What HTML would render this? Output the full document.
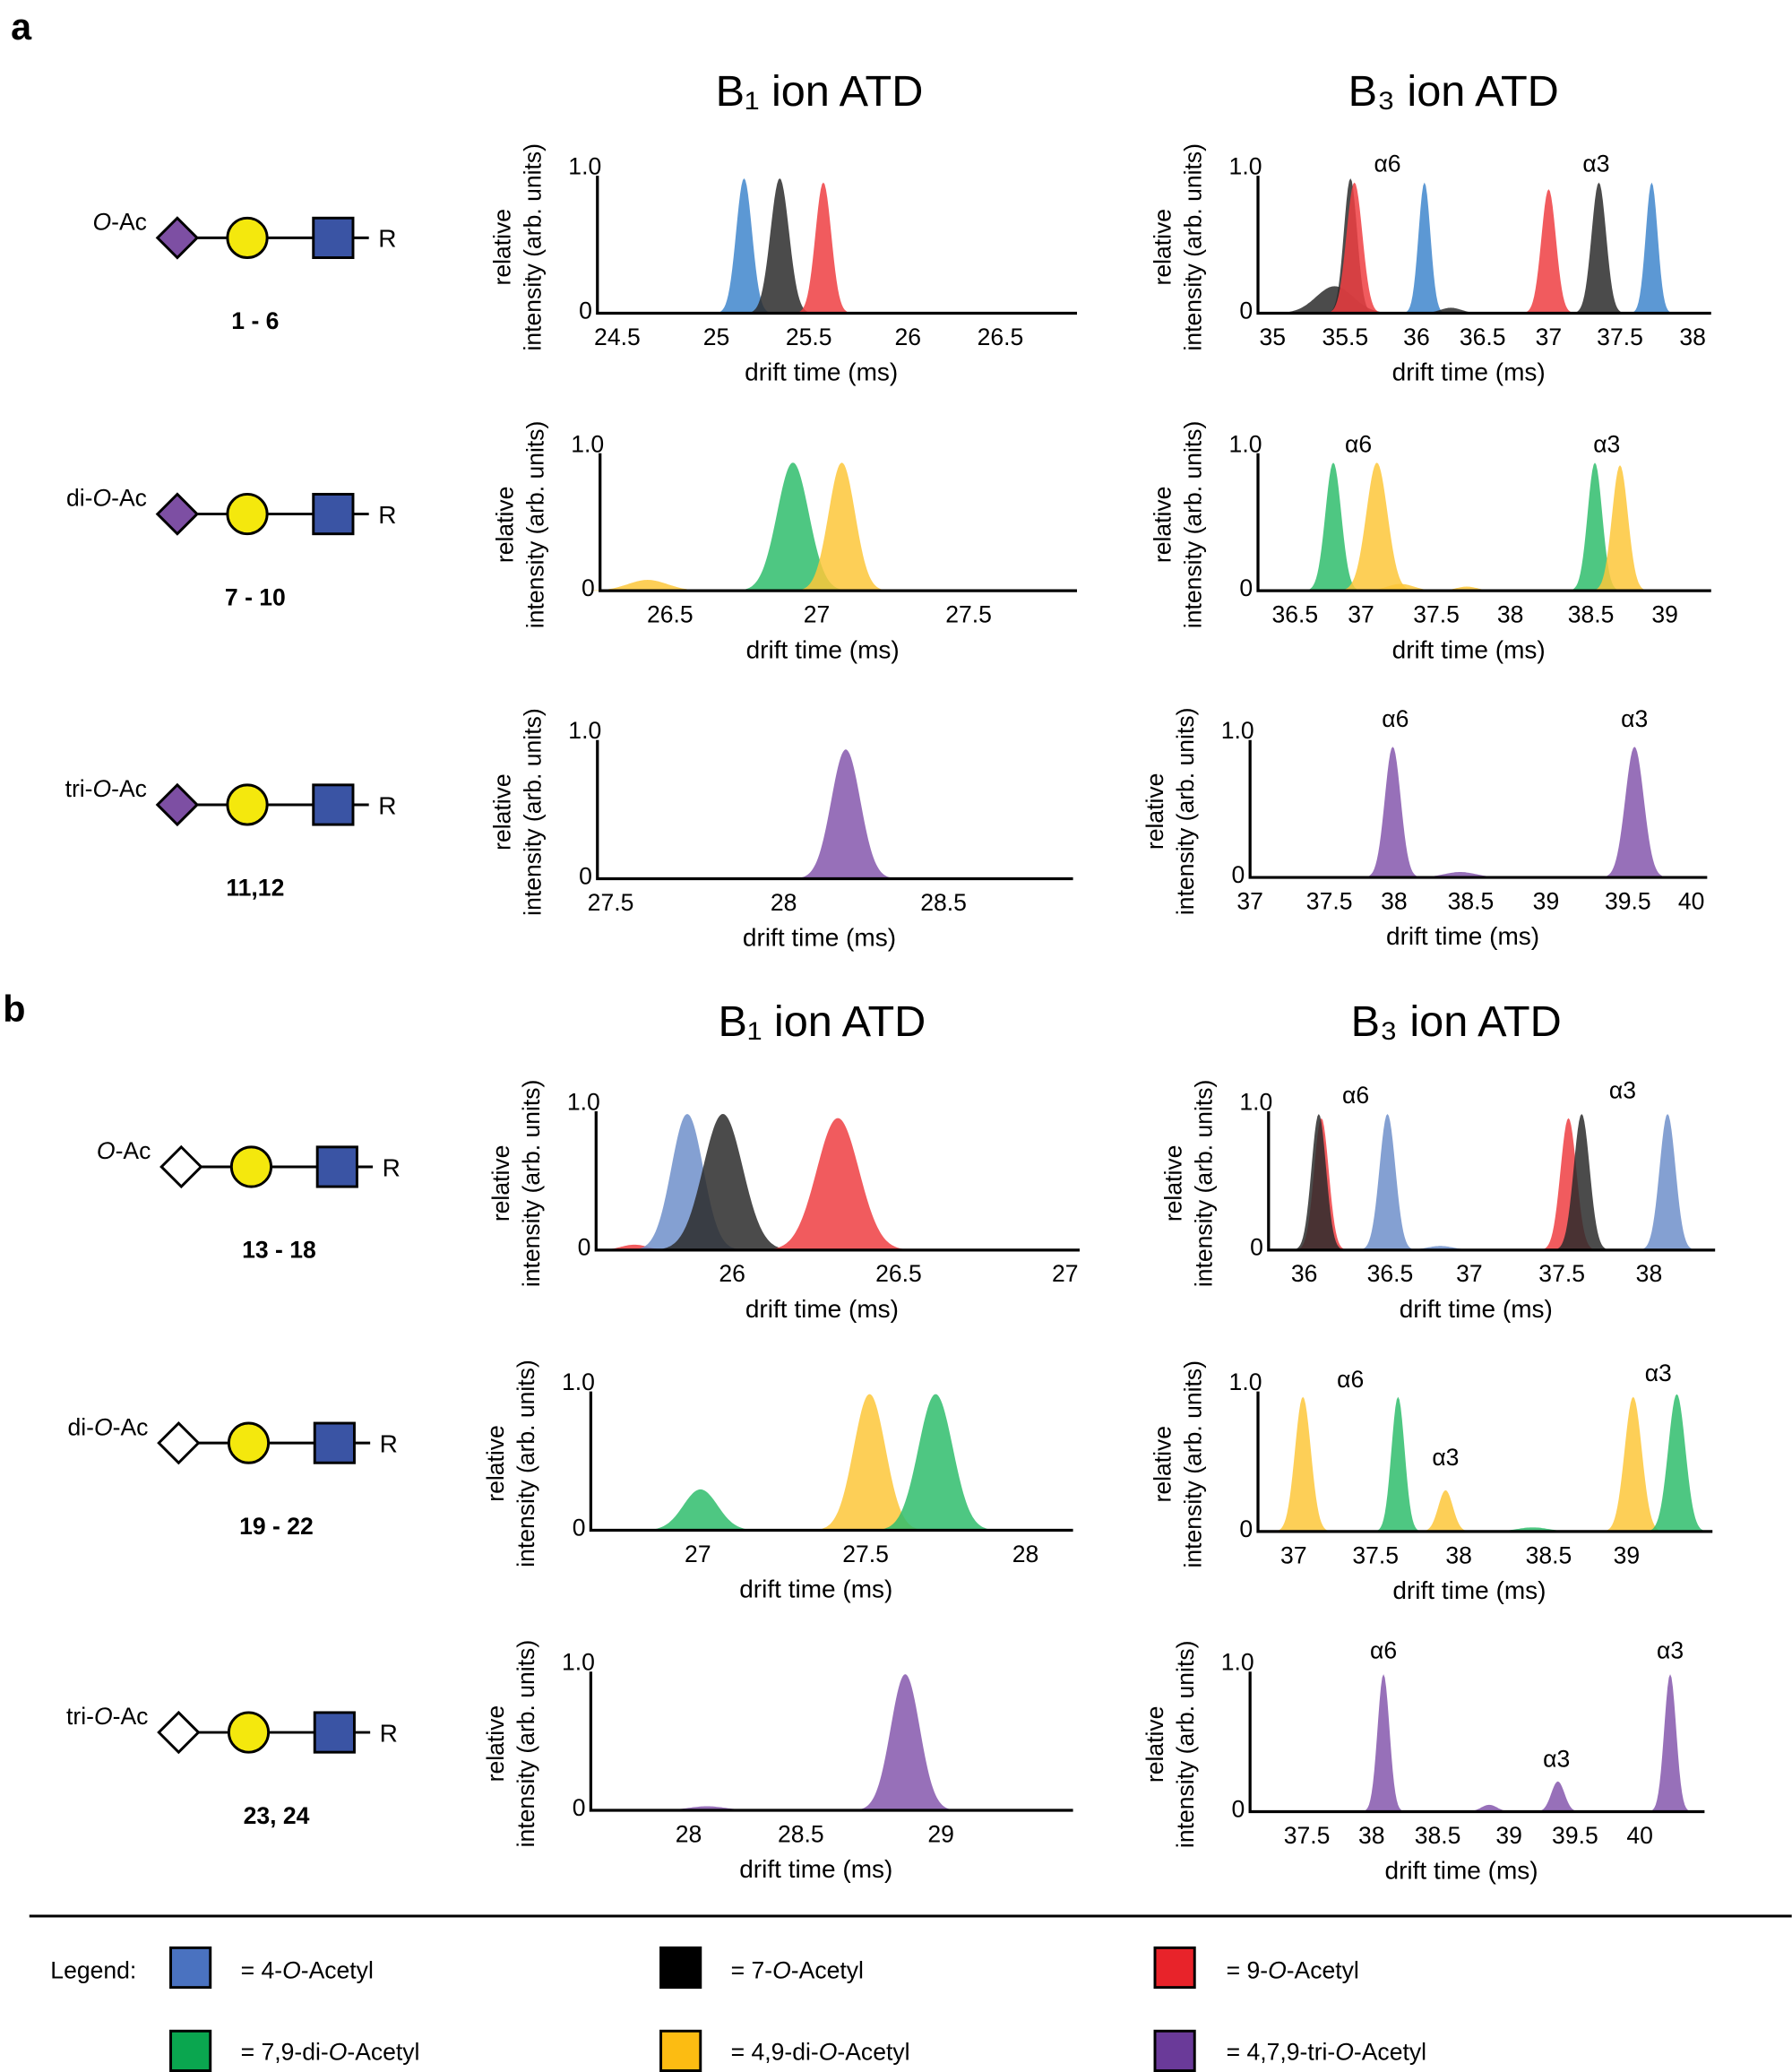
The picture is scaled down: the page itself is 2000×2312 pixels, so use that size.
<!DOCTYPE html>
<html><head><meta charset="utf-8">
<style>
html,body{margin:0;padding:0;background:#fff;}
svg{display:block;font-family:"Liberation Sans",sans-serif;}
</style></head>
<body>
<svg id="s" width="2000" height="2312" viewBox="0 0 1356 1568" xmlns="http://www.w3.org/2000/svg">
<rect width="1356" height="1568" fill="#fff"/>
<text x="8" y="30" font-size="28" font-weight="bold">a</text>
<text x="2" y="773" font-size="28" font-weight="bold">b</text>
<text x="620" y="80" font-size="33" text-anchor="middle">B₁ ion ATD</text>
<text x="1100" y="80" font-size="33" text-anchor="middle">B₃ ion ATD</text>
<text x="622" y="784" font-size="33" text-anchor="middle">B₁ ion ATD</text>
<text x="1102" y="784" font-size="33" text-anchor="middle">B₃ ion ATD</text>
<g id="plots"></g>
<g id="gly"></g>
<line x1="22" y1="1450" x2="1356" y2="1450" stroke="#000" stroke-width="2"/>
<g font-size="18">
<text x="38" y="1497">Legend:</text>
<rect x="129" y="1474" width="30" height="30" fill="#4a72c0" stroke="#000" stroke-width="2"/>
<text x="182" y="1497">= 4-<tspan font-style="italic">O</tspan>-Acetyl</text>
<rect x="500" y="1474" width="30" height="30" fill="#000" stroke="#000" stroke-width="2"/>
<text x="553" y="1497">= 7-<tspan font-style="italic">O</tspan>-Acetyl</text>
<rect x="874" y="1474" width="30" height="30" fill="#e8232a" stroke="#000" stroke-width="2"/>
<text x="928" y="1497">= 9-<tspan font-style="italic">O</tspan>-Acetyl</text>
<rect x="129" y="1537" width="30" height="30" fill="#0aa64f" stroke="#000" stroke-width="2"/>
<text x="182" y="1559">= 7,9-di-<tspan font-style="italic">O</tspan>-Acetyl</text>
<rect x="500" y="1537" width="30" height="30" fill="#fcbc12" stroke="#000" stroke-width="2"/>
<text x="553" y="1559">= 4,9-di-<tspan font-style="italic">O</tspan>-Acetyl</text>
<rect x="874" y="1537" width="30" height="30" fill="#6a3a99" stroke="#000" stroke-width="2"/>
<text x="928" y="1559">= 4,7,9-tri-<tspan font-style="italic">O</tspan>-Acetyl</text>
</g>
</svg>
<script>
var NS="http://www.w3.org/2000/svg";
var C={B:"#3f86cc",b:"#6f8fca",K:"#2b2b2b",R:"#ef3e42",G:"#2fbd6c",Y:"#fdc73a",P:"#8557ad"};
function el(p,t,a,txt){var e=document.createElementNS(NS,t);for(var k in a)e.setAttribute(k,a[k]);if(txt!==undefined)e.textContent=txt;p.appendChild(e);return e;}
var plots=[
{x0:452,x1:815,top:133,base:237,ticks:[["24.5",467],["25",542],["25.5",612],["26",687],["26.5",757]],
 pk:[["B",563,6,1],["K",590,7,1],["R",623,6,.97]],lab:[]},
{x0:952,x1:1295,top:133,base:237,ticks:[["35",963],["35.5",1018],["36",1072],["36.5",1122],["37",1172],["37.5",1226],["38",1281]],
 pk:[["K",1010,14,.2],["K",1022,5,1],["R",1025,6,.97],["B",1078,4.5,.97],["K",1098,8,.04],["R",1172,5.5,.92],["K",1210,5.5,.97],["B",1250,4.5,.97]],lab:[["α6",1050,130],["α3",1208,130]]},
{x0:454,x1:815,top:343,base:447,ticks:[["26.5",507],["27",618],["27.5",733]],
 pk:[["Y",490,15,.08],["G",600,12,.95],["Y",637,10,.95]],lab:[]},
{x0:952,x1:1295,top:343,base:447,ticks:[["36.5",980],["37",1030],["37.5",1087],["38",1143],["38.5",1204],["39",1260]],
 pk:[["G",1009,6,.95],["Y",1042,8,.95],["Y",1060,10,.05],["Y",1110,8,.03],["G",1207,5.5,.95],["Y",1226,6,.93]],lab:[["α6",1028,342],["α3",1216,342]]},
{x0:452,x1:812,top:560,base:665,ticks:[["27.5",462],["28",593],["28.5",714]],
 pk:[["P",640,11,.95]],lab:[]},
{x0:946,x1:1292,top:560,base:664,ticks:[["37",946],["37.5",1006],["38",1055],["38.5",1113],["39",1170],["39.5",1232],["40",1280]],
 pk:[["P",1054,6,.97],["P",1105,12,.04],["P",1237,7,.97]],lab:[["α6",1056,550],["α3",1237,550]]},
{x0:451,x1:817,top:841,base:946,ticks:[["26",554],["26.5",680],["27",806]],
 pk:[["R",480,10,.04],["b",520,12,1],["K",547,15,1],["R",634,16,.97]],lab:[]},
{x0:960,x1:1298,top:841,base:946,ticks:[["36",987],["36.5",1052],["37",1112],["37.5",1182],["38",1248]],
 pk:[["R",1000,5.5,.97],["K",998,5.5,1],["b",1050,6,1],["b",1090,10,.03],["R",1187,6,.97],["K",1197,6,1],["b",1262,6,1]],lab:[["α6",1026,835],["α3",1228,831]]},
{x0:447,x1:812,top:1053,base:1158,ticks:[["27",528],["27.5",655],["28",776]],
 pk:[["G",530,13,.3],["Y",658,12,1],["G",708,13,1]],lab:[]},
{x0:952,x1:1296,top:1053,base:1159,ticks:[["37",979],["37.5",1041],["38",1104],["38.5",1172],["39",1231]],
 pk:[["Y",986,6,.98],["G",1058,5,.98],["Y",1094,5.5,.3],["G",1160,12,.03],["Y",1236,6.5,.98],["G",1269,6.5,1]],lab:[["α6",1022,1050],["α3",1094,1109],["α3",1255,1045]]},
{x0:447,x1:812,top:1265,base:1370,ticks:[["28",521],["28.5",606],["29",712]],
 pk:[["P",535,14,.03],["P",685,11,1]],lab:[]},
{x0:946,x1:1290,top:1265,base:1371,ticks:[["37.5",989],["38",1038],["38.5",1088],["39",1142],["39.5",1192],["40",1241]],
 pk:[["P",1047,4.5,1],["P",1127,6,.05],["P",1179,5,.22],["P",1264,4.5,1]],lab:[["α6",1047,1255],["α3",1178,1337],["α3",1264,1255]]}
];
var g=document.getElementById("plots");
plots.forEach(function(p){
  var H=p.base-(p.top+2);
  p.pk.forEach(function(k){
    var s=k[2],c=k[1],h=k[3]*H,d="M"+(c-4*s)+" "+p.base;
    for(var x=c-4*s;x<=c+4*s;x+=1){var y=p.base-h*Math.exp(-0.5*Math.pow((x-c)/s,2));d+=" L"+x.toFixed(1)+" "+y.toFixed(1);}
    d+=" L"+(c+4*s)+" "+p.base+"Z";
    el(g,"path",{d:d,fill:C[k[0]],"fill-opacity":0.85});
  });
  el(g,"path",{d:"M"+p.x0+" "+p.top+" V"+p.base+" H"+p.x1,stroke:"#000","stroke-width":2.2,fill:"none"});
  el(g,"text",{x:p.x0-22,y:p.top-1,"font-size":18},"1.0");
  el(g,"text",{x:p.x0-14,y:p.base+4,"font-size":18},"0");
  p.ticks.forEach(function(t){el(g,"text",{x:t[1],y:p.base+24,"font-size":18,"text-anchor":"middle"},t[0]);});
  var mx=(p.x0+p.x1)/2-12;
  el(g,"text",{x:mx,y:p.base+51,"font-size":19,"text-anchor":"middle"},"drift time (ms)");
  var cy=(p.top+p.base)/2+2;
  el(g,"text",{x:0,y:0,"font-size":18,"text-anchor":"middle",transform:"translate("+(p.x0-66)+","+cy+") rotate(-90)"},"relative");
  el(g,"text",{x:0,y:0,"font-size":18,"text-anchor":"middle",transform:"translate("+(p.x0-43)+","+cy+") rotate(-90)"},"intensity (arb. units)");
  p.lab.forEach(function(l){el(g,"text",{x:l[1],y:l[2],"font-size":18,"text-anchor":"middle"},l[0]);});
});
var gl=document.getElementById("gly");
var G=[[180,"O-Ac","1 - 6",1,0],[389,"di-O-Ac","7 - 10",1,0],[609,"tri-O-Ac","11,12",1,0],
[883,"O-Ac","13 - 18",0,3],[1092,"di-O-Ac","19 - 22",0,0],[1311,"tri-O-Ac","23, 24",0,0]];
G.forEach(function(q,i){
  var y=q[0],dx=(i>=3?1:0)+(i==3?2:0);
  var a=134+dx,b=187+dx,c=252+dx;
  el(gl,"line",{x1:a,y1:y,x2:c+16,y2:y,stroke:"#000","stroke-width":2});
  el(gl,"line",{x1:c+16,y1:y,x2:c+27,y2:y,stroke:"#000","stroke-width":2});
  el(gl,"path",{d:"M"+a+" "+(y-15)+" L"+(a+15)+" "+y+" L"+a+" "+(y+15)+" L"+(a-15)+" "+y+"Z",fill:q[3]?"#7d4fa3":"#fff",stroke:"#000","stroke-width":2});
  el(gl,"circle",{cx:b,cy:y,r:15,fill:"#f4e80d",stroke:"#000","stroke-width":2});
  el(gl,"rect",{x:c-15,y:y-15,width:30,height:30,fill:"#3a54a4",stroke:"#000","stroke-width":2});
  el(gl,"text",{x:c+41,y:y+7,"font-size":19,"text-anchor":"middle"},"R");
  var t=el(gl,"text",{x:a-23,y:y-6,"font-size":18,"text-anchor":"end"});
  var parts=q[1].split("O");
  el(t,"tspan",{},parts[0]);el(t,"tspan",{"font-style":"italic"},"O");el(t,"tspan",{},parts[1]);
  el(gl,"text",{x:b+6+(i>=3?15:0),y:y+69,"font-size":18,"font-weight":"bold","text-anchor":"middle"},q[2]);
});
</script>
</body></html>
